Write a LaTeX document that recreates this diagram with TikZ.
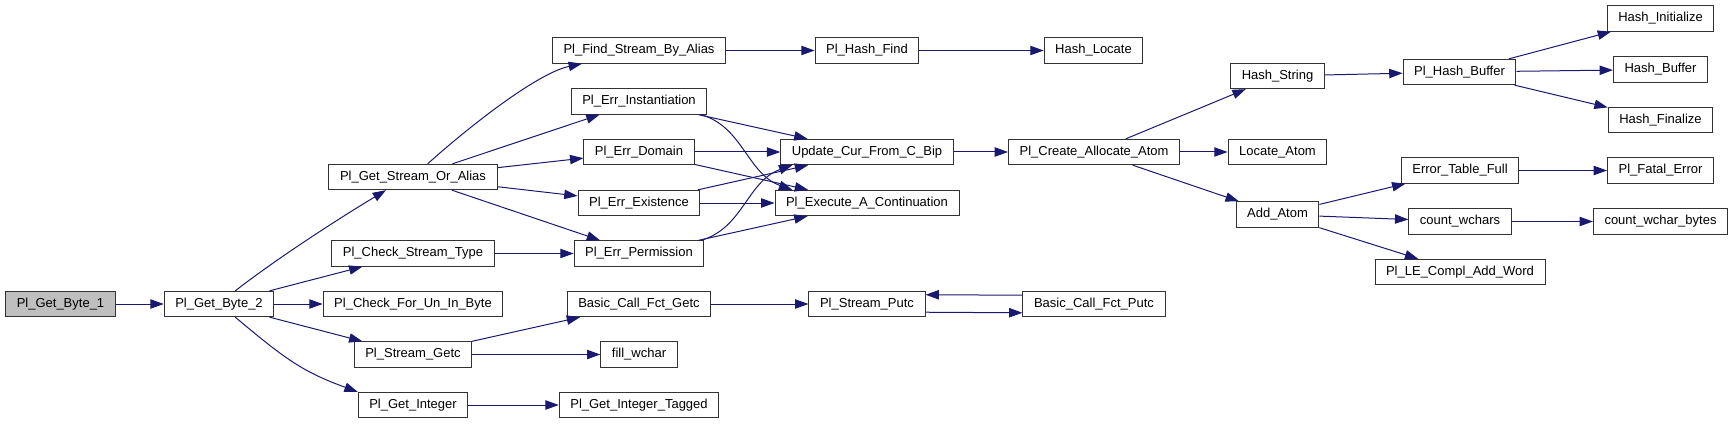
\documentclass[tikz,border=0pt]{standalone}
\usepackage{fontspec}
\setmainfont{Liberation Sans}
\usetikzlibrary{arrows.meta}

\definecolor{edgeblue}{HTML}{191970}
\tikzset{
  fn/.style={draw=black!80, line width=0.75pt, fill=white, inner xsep=8.3pt,
    inner ysep=0pt, minimum height=19pt, font=\fontsize{9.75}{11}\selectfont},
  root/.style={fn, fill=black!25},
  call/.style={draw=edgeblue, line width=0.75pt,
    -{Triangle[length=10pt,width=7pt,fill=edgeblue]}},
}

\begin{document}
\begin{tikzpicture}[x=0.75pt, y=-0.75pt]
  \useasboundingbox (0,0) rectangle (1733,424);
  % Caller side
  \node[root] (getbyte1) at (60.5,304) {Pl\_Get\_Byte\_1};
  \node[fn] (getbyte2) at (219,304) {Pl\_Get\_Byte\_2};
  \node[fn] (getstream) at (413,177) {Pl\_Get\_Stream\_Or\_Alias};
  \node[fn] (checktype) at (413,253.5) {Pl\_Check\_Stream\_Type};
  \node[fn] (checkunin) at (413,304) {Pl\_Check\_For\_Un\_In\_Byte};
  \node[fn] (streamgetc) at (413,354.5) {Pl\_Stream\_Getc};
  \node[fn] (getint) at (413,405) {Pl\_Get\_Integer};
  % Errors and helpers
  \node[fn] (findalias) at (639,50.5) {Pl\_Find\_Stream\_By\_Alias};
  \node[fn] (errinst) at (639,101.5) {Pl\_Err\_Instantiation};
  \node[fn] (errdomain) at (639,152) {Pl\_Err\_Domain};
  \node[fn] (errexist) at (639,203) {Pl\_Err\_Existence};
  \node[fn] (errperm) at (639,253.5) {Pl\_Err\_Permission};
  \node[fn] (callgetc) at (639,304) {Basic\_Call\_Fct\_Getc};
  \node[fn] (fillwchar) at (639,354.5) {fill\_wchar};
  \node[fn] (getinttag) at (639,405) {Pl\_Get\_Integer\_Tagged};
  \node[fn] (hashfind) at (867,50.5) {Pl\_Hash\_Find};
  \node[fn] (updatecur) at (867,152) {Update\_Cur\_From\_C\_Bip};
  \node[fn] (execcont) at (867,203) {Pl\_Execute\_A\_Continuation};
  \node[fn] (streamputc) at (867,304) {Pl\_Stream\_Putc};
  % Atom table
  \node[fn] (hashlocate) at (1093.5,50.5) {Hash\_Locate};
  \node[fn] (createatom) at (1094,152) {Pl\_Create\_Allocate\_Atom};
  \node[fn] (callputc) at (1094,304) {Basic\_Call\_Fct\_Putc};
  \node[fn] (hashstring) at (1277.5,76) {Hash\_String};
  \node[fn] (locateatom) at (1277.5,152) {Locate\_Atom};
  \node[fn] (addatom) at (1277.5,214.5) {Add\_Atom};
  \node[fn] (hashbuffer) at (1459.5,72) {Pl\_Hash\_Buffer};
  \node[fn] (errtable) at (1460,170.5) {Error\_Table\_Full};
  \node[fn] (countwchars) at (1460,221.5) {count\_wchars};
  \node[fn] (addword) at (1460,272) {Pl\_LE\_Compl\_Add\_Word};
  \node[fn] (hashinit) at (1660.5,18.5) {Hash\_Initialize};
  \node[fn] (hashbuf) at (1660.5,69.5) {Hash\_Buffer};
  \node[fn] (hashfinal) at (1660.5,120) {Hash\_Finalize};
  \node[fn] (fatalerr) at (1660.5,170.5) {Pl\_Fatal\_Error};
  \node[fn] (countbytes) at (1660.5,221.5) {count\_wchar\_bytes};
  % Straight calls
  \foreach \a/\b in {getbyte1/getbyte2, getbyte2/checktype, getbyte2/checkunin,
      getbyte2/streamgetc, getstream/errinst, getstream/errdomain,
      getstream/errexist, getstream/errperm, checktype/errperm,
      streamgetc/callgetc, streamgetc/fillwchar, getint/getinttag,
      findalias/hashfind, hashfind/hashlocate, errinst/updatecur,
      errdomain/updatecur, errdomain/execcont, errexist/updatecur,
      errexist/execcont, errperm/execcont, updatecur/createatom,
      createatom/hashstring, createatom/locateatom, createatom/addatom,
      hashstring/hashbuffer, hashbuffer/hashinit, hashbuffer/hashbuf,
      hashbuffer/hashfinal, addatom/errtable, addatom/countwchars,
      addatom/addword, errtable/fatalerr, countwchars/countbytes,
      callgetc/streamputc}
    \draw[call] (\a) -- (\b);
  % Curved calls
  \draw[call] (getbyte2.39) .. controls +(45,-35) and +(-40,24) .. (getstream.-154);
  \draw[call] (getbyte2.-39) .. controls +(50,42) and +(-55,-20) .. (getint.north west);
  \draw[call] (getstream.42) .. controls +(40,-36) and +(-45,9.5) .. (findalias.-167);
  \draw[call] (errinst.-12) .. controls +(42,12) and +(-45,-16) .. (execcont.170);
  \draw[call] (errperm.12) .. controls +(42,-12) and +(-45,16) .. (updatecur.-170);
  % Mutual calls
  \draw[call] (callputc.173) -- (streamputc.9);
  \draw[call] (streamputc.-8) -- (callputc.-173);
\end{tikzpicture}
\end{document}
